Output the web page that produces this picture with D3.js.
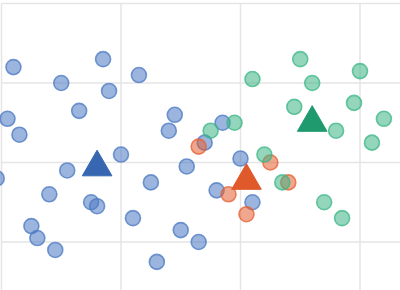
<!DOCTYPE html>
<html>
<head>
<meta charset="utf-8">
<script src="https://cdn.jsdelivr.net/npm/d3@7"></script>
<style>
  html, body { margin: 0; padding: 0; background: #fff; overflow: hidden; }
  svg { display: block; }
</style>
</head>
<body>
<svg id="chart" width="400" height="290"></svg>
<script>
// Cluster A (blue)
const blueX = [0.85,0.10,0.50,0.90,1.15,0.65,1.45,1.40,0.05,0.15,1.00,-0.04,0.55,0.40,0.75,0.80,1.25,1.55,0.25,0.30,0.45,1.10,1.50,1.65,1.30,1.70,1.85,2.00,1.80,2.10];
const blueY = [2.30,2.20,2.00,1.90,2.10,1.65,1.60,1.40,1.55,1.35,1.10,0.80,0.90,0.60,0.50,0.45,0.75,0.95,0.20,0.05,-0.10,0.30,0.15,0.00,-0.25,1.25,1.50,1.05,0.65,0.50];
// Cluster B (orange)
const orangeX = [1.65,2.25,2.40,1.90,2.05];
const orangeY = [1.20,1.00,0.75,0.60,0.35];
// Cluster C (green)
const greenX = [1.75,1.95,2.10,2.50,2.60,3.00,2.45,2.95,3.20,2.80,3.10,2.20,2.35,2.70,2.85];
const greenY = [1.40,1.50,2.05,2.30,2.00,2.15,1.70,1.75,1.55,1.40,1.25,1.10,0.75,0.50,0.30];
// Centroids
const centroidNames = ["A","B","C"];
const centroidX = [0.80,2.05,2.60];
const centroidY = [0.94,0.77,1.50];
const gridTicksX = [0,1,2,3];
const gridTicksY = [0,1,2,3];

const svg = d3.select("#chart");
const x = d3.scaleLinear().domain([0,3]).range([1.5,360]);
const y = d3.scaleLinear().domain([0,3]).range([242,3.5]);

const grid = svg.append("g");
grid.selectAll(".vx").data(gridTicksX).join("line")
  .attr("x1", d => x(d)).attr("x2", d => x(d))
  .attr("y1", y(3)).attr("y2", 290)
  .attr("stroke", "#e5e5e5").attr("stroke-width", 1.5);
grid.selectAll(".hy").data(gridTicksY).join("line")
  .attr("x1", x(0)).attr("x2", 400)
  .attr("y1", d => y(d)).attr("y2", d => y(d))
  .attr("stroke", "#e5e5e5").attr("stroke-width", 1.5);

const series = [
  {xs: blueX, ys: blueY, color: "#4a78c2"},
  {xs: orangeX, ys: orangeY, color: "#e55f30"},
  {xs: greenX, ys: greenY, color: "#3bb585"}
];
const triColors = ["#3667b0", "#e0592b", "#1f9a6f"];

series.forEach(s => {
  svg.append("g").selectAll("circle")
    .data(s.xs.map((v, i) => [v, s.ys[i]]))
    .join("circle")
    .attr("cx", d => x(d[0]))
    .attr("cy", d => y(d[1]))
    .attr("r", 7.5)
    .attr("fill", s.color)
    .attr("fill-opacity", 0.55)
    .attr("stroke", s.color)
    .attr("stroke-opacity", 0.75)
    .attr("stroke-width", 1.6);
});

const tri = d3.symbol().type(d3.symbolTriangle).size(380);
svg.append("g").selectAll("path")
  .data(centroidNames.map((n, i) => ({n, x: centroidX[i], y: centroidY[i], c: triColors[i]})))
  .join("path")
  .attr("d", tri)
  .attr("transform", d => `translate(${x(d.x)},${y(d.y)})`)
  .attr("fill", d => d.c)
  .attr("stroke", d => d.c)
  .attr("stroke-width", 1);
</script>
</body>
</html>
